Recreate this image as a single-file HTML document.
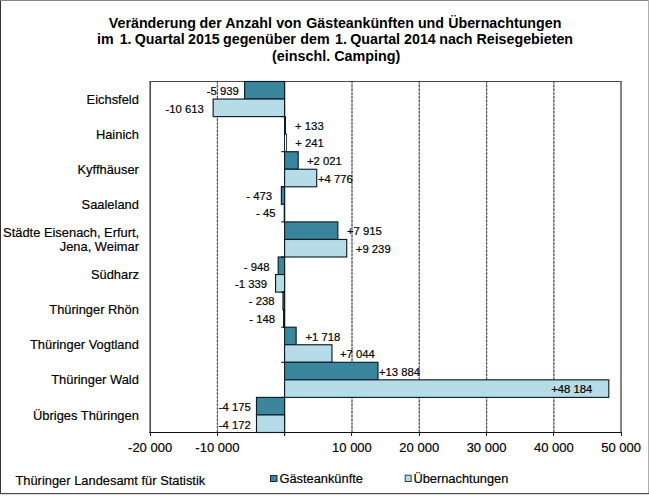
<!DOCTYPE html>
<html lang="de"><head><meta charset="utf-8"><title>Gästeankünfte und Übernachtungen</title>
<style>html,body{margin:0;padding:0;background:#fff;}svg{display:block;}text{white-space:pre;stroke:#000;stroke-width:0.18px;}</style>
</head><body>
<svg width="649" height="496" viewBox="0 0 649 496" font-family="'Liberation Sans', Arial, Helvetica, sans-serif" fill="#000">
<rect x="0" y="0" width="649" height="496" fill="#fff"/>
<line x1="217.44" y1="81.0" x2="217.44" y2="432.0" stroke="#bdbdbd" stroke-width="1.2"/>
<line x1="217.44" y1="81.0" x2="217.44" y2="432.0" stroke="#555" stroke-width="1.2" stroke-dasharray="2.5 1.25"/>
<line x1="352.01" y1="81.0" x2="352.01" y2="432.0" stroke="#bdbdbd" stroke-width="1.2"/>
<line x1="352.01" y1="81.0" x2="352.01" y2="432.0" stroke="#555" stroke-width="1.2" stroke-dasharray="2.5 1.25"/>
<line x1="419.29" y1="81.0" x2="419.29" y2="432.0" stroke="#bdbdbd" stroke-width="1.2"/>
<line x1="419.29" y1="81.0" x2="419.29" y2="432.0" stroke="#555" stroke-width="1.2" stroke-dasharray="2.5 1.25"/>
<line x1="486.58" y1="81.0" x2="486.58" y2="432.0" stroke="#bdbdbd" stroke-width="1.2"/>
<line x1="486.58" y1="81.0" x2="486.58" y2="432.0" stroke="#555" stroke-width="1.2" stroke-dasharray="2.5 1.25"/>
<line x1="553.86" y1="81.0" x2="553.86" y2="432.0" stroke="#bdbdbd" stroke-width="1.2"/>
<line x1="553.86" y1="81.0" x2="553.86" y2="432.0" stroke="#555" stroke-width="1.2" stroke-dasharray="2.5 1.25"/>
<line x1="149.4" y1="81.5" x2="621.7" y2="81.5" stroke="#484848" stroke-width="1.2"/>
<line x1="150.2" y1="81.0" x2="150.2" y2="433.0" stroke="#505050" stroke-width="1.6"/>
<line x1="621.0" y1="81.0" x2="621.0" y2="433.0" stroke="#5c5c5c" stroke-width="1.5"/>
<line x1="149.4" y1="432.45" x2="621.7" y2="432.45" stroke="#111" stroke-width="1.15"/>
<line x1="284.57" y1="81.0" x2="284.57" y2="436.0" stroke="#000" stroke-width="1.1"/>
<rect x="244.61" y="81.50" width="39.96" height="17.55" fill="#3a869c" stroke="#0e1c28" stroke-width="1.15"/>
<rect x="213.16" y="99.05" width="71.41" height="17.55" fill="#b6dde7" stroke="#0e1c28" stroke-width="1.15"/>
<rect x="284.57" y="116.60" width="0.89" height="17.55" fill="#3a869c" stroke="#0e1c28" stroke-width="1.15"/>
<rect x="284.57" y="134.15" width="2.05" height="17.55" fill="#eef8fb" stroke="#0e1c28" stroke-width="0.85"/>
<rect x="284.57" y="151.70" width="13.60" height="17.55" fill="#3a869c" stroke="#0e1c28" stroke-width="1.15"/>
<rect x="284.57" y="169.25" width="32.14" height="17.55" fill="#b6dde7" stroke="#0e1c28" stroke-width="1.15"/>
<rect x="281.39" y="186.80" width="3.18" height="17.55" fill="#3a869c" stroke="#0e1c28" stroke-width="1.15"/>
<rect x="284.27" y="204.35" width="0.30" height="17.55" fill="#b6dde7" stroke="#0e1c28" stroke-width="1.15"/>
<rect x="284.57" y="221.90" width="53.26" height="17.55" fill="#3a869c" stroke="#0e1c28" stroke-width="1.15"/>
<rect x="284.57" y="239.45" width="62.17" height="17.55" fill="#b6dde7" stroke="#0e1c28" stroke-width="1.15"/>
<rect x="278.19" y="257.00" width="6.38" height="17.55" fill="#3a869c" stroke="#0e1c28" stroke-width="1.15"/>
<rect x="275.56" y="274.55" width="9.01" height="17.55" fill="#b6dde7" stroke="#0e1c28" stroke-width="1.15"/>
<rect x="282.97" y="292.10" width="1.60" height="17.55" fill="#3a869c" stroke="#0e1c28" stroke-width="1.15"/>
<rect x="283.58" y="309.65" width="1.00" height="17.55" fill="#b6dde7" stroke="#0e1c28" stroke-width="1.15"/>
<rect x="284.57" y="327.20" width="11.56" height="17.55" fill="#3a869c" stroke="#0e1c28" stroke-width="1.15"/>
<rect x="284.57" y="344.75" width="47.40" height="17.55" fill="#b6dde7" stroke="#0e1c28" stroke-width="1.15"/>
<rect x="284.57" y="362.30" width="93.42" height="17.55" fill="#3a869c" stroke="#0e1c28" stroke-width="1.15"/>
<rect x="284.57" y="379.85" width="324.21" height="17.55" fill="#b6dde7" stroke="#0e1c28" stroke-width="1.15"/>
<rect x="256.48" y="397.40" width="28.09" height="17.55" fill="#3a869c" stroke="#0e1c28" stroke-width="1.15"/>
<rect x="256.50" y="414.95" width="28.07" height="17.55" fill="#b6dde7" stroke="#0e1c28" stroke-width="1.15"/>
<line x1="281.27" y1="81.50" x2="284.57" y2="81.50" stroke="#000" stroke-width="1"/>
<line x1="281.27" y1="116.60" x2="284.57" y2="116.60" stroke="#000" stroke-width="1"/>
<line x1="281.27" y1="151.70" x2="284.57" y2="151.70" stroke="#000" stroke-width="1"/>
<line x1="281.27" y1="186.80" x2="284.57" y2="186.80" stroke="#000" stroke-width="1"/>
<line x1="281.27" y1="221.90" x2="284.57" y2="221.90" stroke="#000" stroke-width="1"/>
<line x1="281.27" y1="257.00" x2="284.57" y2="257.00" stroke="#000" stroke-width="1"/>
<line x1="281.27" y1="292.10" x2="284.57" y2="292.10" stroke="#000" stroke-width="1"/>
<line x1="281.27" y1="327.20" x2="284.57" y2="327.20" stroke="#000" stroke-width="1"/>
<line x1="281.27" y1="362.30" x2="284.57" y2="362.30" stroke="#000" stroke-width="1"/>
<line x1="281.27" y1="397.40" x2="284.57" y2="397.40" stroke="#000" stroke-width="1"/>
<line x1="281.27" y1="432.50" x2="284.57" y2="432.50" stroke="#000" stroke-width="1"/>
<line x1="150.5" y1="432.0" x2="150.5" y2="436.0" stroke="#222" stroke-width="1.1"/>
<line x1="217.5" y1="432.0" x2="217.5" y2="436.0" stroke="#222" stroke-width="1.1"/>
<line x1="284.5" y1="432.0" x2="284.5" y2="436.0" stroke="#222" stroke-width="1.1"/>
<line x1="351.5" y1="432.0" x2="351.5" y2="436.0" stroke="#222" stroke-width="1.1"/>
<line x1="419.5" y1="432.0" x2="419.5" y2="436.0" stroke="#222" stroke-width="1.1"/>
<line x1="486.5" y1="432.0" x2="486.5" y2="436.0" stroke="#222" stroke-width="1.1"/>
<line x1="553.5" y1="432.0" x2="553.5" y2="436.0" stroke="#222" stroke-width="1.1"/>
<line x1="621.5" y1="432.0" x2="621.5" y2="436.0" stroke="#222" stroke-width="1.1"/>
<rect x="270.5" y="475.5" width="6.5" height="6" fill="#3a869c" stroke="#15303c" stroke-width="1"/>
<rect x="405.2" y="475.2" width="6" height="6.3" fill="#b6dde7" stroke="#2a3f4a" stroke-width="1"/>
<text id="ax-20000" x="150.10" y="452.40" font-size="13.0" text-anchor="middle">-20 000</text>
<text id="ax-10000" x="217.39" y="452.40" font-size="13.0" text-anchor="middle">-10 000</text>
<text id="ax10000" x="351.96" y="452.40" font-size="13.0" text-anchor="middle">10 000</text>
<text id="ax20000" x="419.24" y="452.40" font-size="13.0" text-anchor="middle">20 000</text>
<text id="ax30000" x="486.53" y="452.40" font-size="13.0" text-anchor="middle">30 000</text>
<text id="ax40000" x="553.81" y="452.40" font-size="13.0" text-anchor="middle">40 000</text>
<text id="ax50000" x="621.10" y="452.40" font-size="13.0" text-anchor="middle">50 000</text>
<text id="cat0" x="138.90" y="103.60" font-size="12.9" text-anchor="end">Eichsfeld</text>
<text id="va0" x="238.75" y="95.00" font-size="11.3" text-anchor="end">-5 939</text>
<text id="vb0" x="203.75" y="113.00" font-size="11.3" text-anchor="end">-10 613</text>
<text id="cat1" x="138.90" y="138.70" font-size="12.9" text-anchor="end">Hainich</text>
<text id="va1" x="295.10" y="129.70" font-size="11.3" text-anchor="start">+ 133</text>
<text id="vb1" x="295.30" y="147.00" font-size="11.3" text-anchor="start">+ 241</text>
<text id="cat2" x="138.90" y="173.80" font-size="12.9" text-anchor="end">Kyffhäuser</text>
<text id="va2" x="306.90" y="164.50" font-size="11.3" text-anchor="start">+2 021</text>
<text id="vb2" x="318.00" y="182.50" font-size="11.3" text-anchor="start">+4 776</text>
<text id="cat3" x="138.90" y="208.90" font-size="12.9" text-anchor="end">Saaleland</text>
<text id="va3" x="272.00" y="199.50" font-size="11.3" text-anchor="end">- 473</text>
<text id="vb3" x="275.50" y="217.00" font-size="11.3" text-anchor="end">- 45</text>
<text id="cat4a" x="139.20" y="236.60" font-size="12.9" text-anchor="end">Städte Eisenach, Erfurt,</text>
<text id="cat4b" x="139.00" y="251.00" font-size="12.9" text-anchor="end">Jena, Weimar</text>
<text id="va4" x="347.00" y="234.50" font-size="11.3" text-anchor="start">+7 915</text>
<text id="vb4" x="355.80" y="252.50" font-size="11.3" text-anchor="start">+9 239</text>
<text id="cat5" x="138.90" y="279.10" font-size="12.9" text-anchor="end">Südharz</text>
<text id="va5" x="269.50" y="270.50" font-size="11.3" text-anchor="end">- 948</text>
<text id="vb5" x="267.00" y="287.50" font-size="11.3" text-anchor="end">-1 339</text>
<text id="cat6" x="138.90" y="314.20" font-size="12.9" text-anchor="end">Thüringer Rhön</text>
<text id="va6" x="274.50" y="305.40" font-size="11.3" text-anchor="end">- 238</text>
<text id="vb6" x="275.00" y="322.80" font-size="11.3" text-anchor="end">- 148</text>
<text id="cat7" x="138.90" y="349.30" font-size="12.9" text-anchor="end">Thüringer Vogtland</text>
<text id="va7" x="305.50" y="340.70" font-size="11.3" text-anchor="start">+1 718</text>
<text id="vb7" x="340.00" y="357.50" font-size="11.3" text-anchor="start">+7 044</text>
<text id="cat8" x="138.90" y="384.40" font-size="12.9" text-anchor="end">Thüringer Wald</text>
<text id="va8" x="378.90" y="375.50" font-size="11.3" text-anchor="start">+13 884</text>
<text id="vb8" x="551.20" y="392.70" font-size="11.3" text-anchor="start">+48 184</text>
<text id="cat9" x="138.90" y="419.50" font-size="12.9" text-anchor="end">Übriges Thüringen</text>
<text id="va9" x="250.75" y="410.80" font-size="11.3" text-anchor="end">-4 175</text>
<text id="vb9" x="250.75" y="429.00" font-size="11.3" text-anchor="end">-4 172</text>
<text id="t0" x="335.10" y="27.90" font-size="14.25" text-anchor="middle" font-weight="bold" style="stroke:none"><tspan>Veränderung </tspan><tspan dx="-0.30">der </tspan><tspan>Anzahl </tspan><tspan dx="0.30">von </tspan><tspan dx="0.80">Gästeankünften </tspan><tspan>und </tspan><tspan dx="0.20">Übernachtungen</tspan></text>
<text id="t1" x="335.07" y="44.20" font-size="14.25" text-anchor="middle" font-weight="bold" style="stroke:none"><tspan>im </tspan><tspan dx="2.00">1. </tspan><tspan dx="-0.75">Quartal </tspan><tspan dx="-0.50">2015 </tspan><tspan dx="-0.75">gegenüber </tspan><tspan dx="0.50">dem </tspan><tspan dx="1.50">1. </tspan><tspan dx="-0.75">Quartal </tspan><tspan>2014 </tspan><tspan dx="-0.50">nach </tspan><tspan>Reisegebieten</tspan></text>
<text id="t2" x="336.20" y="61.00" font-size="14.35" text-anchor="middle" font-weight="bold" style="stroke:none"><tspan>(einschl. </tspan><tspan>Camping)</tspan></text>
<text id="foot" x="15.40" y="484.60" font-size="12.9" text-anchor="start">Thüringer Landesamt für Statistik</text>
<text id="leg1" x="279.40" y="482.50" font-size="12.85" text-anchor="start">Gästeankünfte</text>
<text id="leg2" x="413.40" y="482.60" font-size="12.85" text-anchor="start">Übernachtungen</text>
<rect x="0" y="0" width="1" height="494" fill="#333"/>
<rect x="0" y="0" width="649" height="0.9" fill="#7a7a7a"/>
<rect x="648" y="0" width="1" height="494" fill="#aeaeae"/>
<rect x="0" y="493" width="649" height="1" fill="#4a4a4a"/>
<rect x="0" y="494" width="649" height="1" fill="#dcdcdc"/>
</svg>
</body></html>
